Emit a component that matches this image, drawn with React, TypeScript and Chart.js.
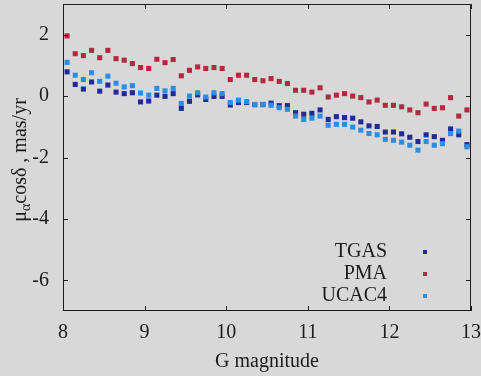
import React, { useEffect, useRef } from "react";
import { Chart, registerables } from "chart.js";

Chart.register(...registerables);

const magnitudes = [
  8.05, 8.15, 8.25, 8.35, 8.45, 8.55, 8.65, 8.75, 8.85, 8.95,
  9.05, 9.15, 9.25, 9.35, 9.45, 9.55, 9.65, 9.75, 9.85, 9.95,
  10.05, 10.15, 10.25, 10.35, 10.45, 10.55, 10.65, 10.75, 10.85, 10.95,
  11.05, 11.15, 11.25, 11.35, 11.45, 11.55, 11.65, 11.75, 11.85, 11.95,
  12.05, 12.15, 12.25, 12.35, 12.45, 12.55, 12.65, 12.75, 12.85, 12.95,
];

const tgas = [
  0.79, 0.38, 0.23, 0.46, 0.16, 0.36, 0.13, 0.08, 0.11, -0.19,
  -0.16, 0.03, -0.01, 0.08, -0.4, -0.17, 0.04, -0.11, -0.01, -0.01,
  -0.29, -0.21, -0.21, -0.28, -0.28, -0.23, -0.31, -0.31, -0.54, -0.59,
  -0.56, -0.45, -0.76, -0.67, -0.7, -0.72, -0.84, -0.97, -0.99, -1.17,
  -1.17, -1.23, -1.34, -1.48, -1.26, -1.32, -1.44, -1.07, -1.26, -1.58,
];

const pma = [
  1.96, 1.38, 1.32, 1.49, 1.25, 1.49, 1.22, 1.17, 1.06, 0.93,
  0.9, 1.2, 1.09, 1.19, 0.66, 0.84, 0.95, 0.9, 0.93, 0.9,
  0.54, 0.68, 0.68, 0.54, 0.5, 0.57, 0.48, 0.41, 0.19, 0.19,
  0.13, 0.27, -0.03, 0.03, 0.08, 0.0, -0.05, -0.19, -0.13, -0.3,
  -0.3, -0.35, -0.45, -0.54, -0.26, -0.4, -0.38, -0.05, -0.65, -0.45,
];

const ucac4 = [
  1.1, 0.68, 0.54, 0.76, 0.48, 0.65, 0.42, 0.3, 0.34, 0.1,
  0.03, 0.25, 0.17, 0.25, -0.24, 0.0, 0.11, -0.03, 0.11, 0.08,
  -0.21, -0.13, -0.18, -0.27, -0.27, -0.3, -0.38, -0.43, -0.65, -0.76,
  -0.72, -0.65, -0.95, -0.92, -0.92, -1.01, -1.11, -1.22, -1.26, -1.41,
  -1.44, -1.5, -1.6, -1.76, -1.48, -1.6, -1.55, -1.22, -1.14, -1.65,
];

const xTicks = [8, 9, 10, 11, 12, 13];
const yTicks = [-6, -4, -2, 0, 2];
const xTickLabels = ["8", "9", "10", "11", "12", "13"];
const yTickLabels = ["-6", "-4", "-2", "0", "2"];

const seriesNames = ["TGAS", "PMA", "UCAC4"];
const seriesColors = ["#232a98", "#b5283d", "#2a8de6"];

const FONT20 = '20px "Liberation Serif"';
const FONT14 = '14px "Liberation Serif"';
const BG = "#d8d8d8";
const INK = "#1c1c1c";

const framePlugin = {
  id: "frame",
  afterDraw(chart: any) {
    const { ctx, chartArea, scales } = chart;
    const { left, right, top, bottom } = chartArea;
    const xs = scales.x;
    const ys = scales.y;
    ctx.save();
    ctx.strokeStyle = INK;
    ctx.lineWidth = 1;
    ctx.strokeRect(left + 0.5, top + 0.5, right - left - 1, bottom - top - 1);
    const tl = 5;
    ctx.beginPath();
    xTicks.forEach((v) => {
      const px = Math.round(xs.getPixelForValue(v)) + 0.5;
      ctx.moveTo(px, bottom);
      ctx.lineTo(px, bottom - tl);
      ctx.moveTo(px, top);
      ctx.lineTo(px, top + tl);
    });
    yTicks.forEach((v) => {
      const py = Math.round(ys.getPixelForValue(v)) + 0.5;
      ctx.moveTo(left, py);
      ctx.lineTo(left + tl, py);
      ctx.moveTo(right, py);
      ctx.lineTo(right - tl, py);
    });
    ctx.stroke();

    // tick labels
    ctx.fillStyle = INK;
    ctx.font = FONT20;
    ctx.textBaseline = "middle";
    ctx.textAlign = "center";
    xTicks.forEach((v, i) => {
      ctx.fillText(xTickLabels[i], xs.getPixelForValue(v), 333);
    });
    ctx.textAlign = "right";
    yTicks.forEach((v, i) => {
      ctx.fillText(yTickLabels[i], 49, ys.getPixelForValue(v));
    });

    // x title
    ctx.textAlign = "center";
    ctx.fillText("G magnitude", (left + right) / 2, 362);

    // y title with subscript
    ctx.save();
    ctx.translate(20, 160);
    ctx.rotate(-Math.PI / 2);
    const p1 = "μ";
    const p2 = "α";
    const p3 = "cosδ , mas/yr";
    ctx.font = FONT20;
    const w1 = ctx.measureText(p1).width;
    const w3 = ctx.measureText(p3).width;
    ctx.font = FONT14;
    const w2 = ctx.measureText(p2).width;
    const total = w1 + w2 + w3;
    let cx = -total / 2;
    ctx.textAlign = "left";
    ctx.textBaseline = "alphabetic";
    ctx.font = FONT20;
    ctx.fillText(p1, cx, 6);
    cx += w1;
    ctx.font = FONT14;
    ctx.fillText(p2, cx, 10);
    cx += w2;
    ctx.font = FONT20;
    ctx.fillText(p3, cx, 6);
    ctx.restore();

    // legend
    const rows = [252, 274, 296];
    ctx.font = FONT20;
    ctx.textAlign = "right";
    ctx.textBaseline = "middle";
    seriesNames.forEach((name, i) => {
      ctx.fillStyle = INK;
      ctx.fillText(name, 387, rows[i]);
      ctx.fillStyle = seriesColors[i];
      ctx.fillRect(423, rows[i] - 2, 4, 4);
    });
    ctx.restore();
  },
};

export default function App() {
  const canvasRef = useRef<HTMLCanvasElement | null>(null);

  useEffect(() => {
    document.body.style.margin = "0";
    document.body.style.background = BG;
    const canvas = canvasRef.current;
    if (!canvas) return;
    const toPoints = (vals: number[]) =>
      magnitudes.map((m, i) => ({ x: m, y: vals[i] }));
    const seriesValues = [tgas, pma, ucac4];
    const orders = [3, 2, 1];
    const chart = new Chart(canvas, {
      type: "scatter",
      data: {
        datasets: seriesNames.map((name, i) => ({
          label: name,
          data: toPoints(seriesValues[i]),
          backgroundColor: seriesColors[i],
          borderColor: seriesColors[i],
          borderWidth: 0,
          pointStyle: "rect",
          pointRadius: 3.6,
          order: orders[i],
        })),
      },
      options: {
        animation: false,
        responsive: false,
        maintainAspectRatio: false,
        layout: { padding: { top: 3, right: 10, left: 0, bottom: 0 } },
        plugins: {
          legend: { display: false },
          tooltip: { enabled: false },
        },
        scales: {
          x: {
            type: "linear",
            min: 8,
            max: 13,
            afterBuildTicks: (s: any) => {
              s.ticks = xTicks.map((v) => ({ value: v }));
            },
            afterFit: (s: any) => {
              s.height = 65;
            },
            grid: { display: false },
            border: { display: false },
            ticks: { display: false },
          },
          y: {
            type: "linear",
            min: -7,
            max: 3,
            afterBuildTicks: (s: any) => {
              s.ticks = yTicks.map((v) => ({ value: v }));
            },
            afterFit: (s: any) => {
              s.width = 63;
            },
            grid: { display: false },
            border: { display: false },
            ticks: { display: false },
          },
        },
      },
      plugins: [framePlugin],
    } as any);
    return () => chart.destroy();
  }, []);

  return (
    <div style={{ width: 481, height: 376, background: BG }}>
      <canvas ref={canvasRef} width={481} height={376} />
    </div>
  );
}
